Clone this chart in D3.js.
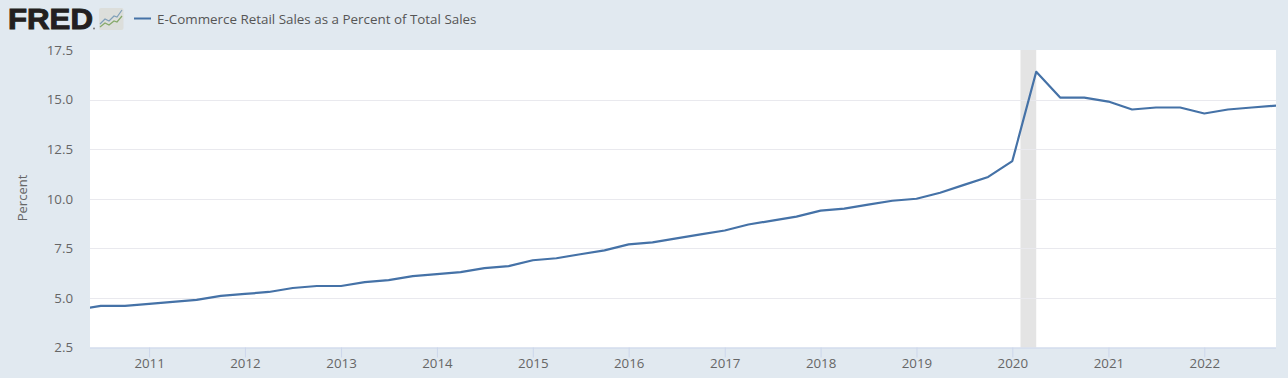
<!DOCTYPE html>
<html>
<head>
<meta charset="utf-8">
<script src="https://cdn.jsdelivr.net/npm/d3@7"></script>
<style>
    html, body { margin: 0; padding: 0; background: #e1e9f0; }
    svg { display: block; font-family: "Open Sans", sans-serif; }
    .axis text { fill: #666666; }
</style>
</head>
<body>
<div id="chart"></div>
<script>
// quarterly values, first one is off the left edge and gets clipped
const quarters = [
    "2010-04-01", "2010-07-01", "2010-10-01",
    "2011-01-01", "2011-04-01", "2011-07-01", "2011-10-01",
    "2012-01-01", "2012-04-01", "2012-07-01", "2012-10-01",
    "2013-01-01", "2013-04-01", "2013-07-01", "2013-10-01",
    "2014-01-01", "2014-04-01", "2014-07-01", "2014-10-01",
    "2015-01-01", "2015-04-01", "2015-07-01", "2015-10-01",
    "2016-01-01", "2016-04-01", "2016-07-01", "2016-10-01",
    "2017-01-01", "2017-04-01", "2017-07-01", "2017-10-01",
    "2018-01-01", "2018-04-01", "2018-07-01", "2018-10-01",
    "2019-01-01", "2019-04-01", "2019-07-01", "2019-10-01",
    "2020-01-01", "2020-04-01", "2020-07-01", "2020-10-01",
    "2021-01-01", "2021-04-01", "2021-07-01", "2021-10-01",
    "2022-01-01", "2022-04-01", "2022-07-01", "2022-10-01"
];
const percent = [
    4.4, 4.6, 4.6,
    4.7, 4.8, 4.9, 5.1,
    5.2, 5.3, 5.5, 5.6,
    5.6, 5.8, 5.9, 6.1,
    6.2, 6.3, 6.5, 6.6,
    6.9, 7.0, 7.2, 7.4,
    7.7, 7.8, 8.0, 8.2,
    8.4, 8.7, 8.9, 9.1,
    9.4, 9.5, 9.7, 9.9,
    10.0, 10.3, 10.7, 11.1,
    11.9, 16.4, 15.1, 15.1,
    14.9, 14.5, 14.6, 14.6,
    14.3, 14.5, 14.6, 14.7
];
const yTicks = [2.5, 5, 7.5, 10, 12.5, 15, 17.5];
const xTickYears = [2011, 2012, 2013, 2014, 2015, 2016, 2017, 2018, 2019, 2020, 2021, 2022];
const recession = ["2020-02-01", "2020-04-01"];
const seriesName = "E-Commerce Retail Sales as a Percent of Total Sales";

const WIDTH = 1288, HEIGHT = 378;
const MARGIN = { LEFT: 90, RIGHT: 12, TOP: 50, BOTTOM: 30.5 };
const innerW = WIDTH - MARGIN.LEFT - MARGIN.RIGHT;
const innerH = HEIGHT - MARGIN.TOP - MARGIN.BOTTOM;

const parseDate = d3.utcParse("%Y-%m-%d");
const data = quarters.map((q, i) => ({ date: parseDate(q), value: percent[i] }));

const svg = d3.select("#chart").append("svg")
    .attr("width", WIDTH)
    .attr("height", HEIGHT);

svg.append("defs").append("clipPath").attr("id", "plot-clip")
    .append("rect").attr("width", innerW).attr("height", innerH);

// x domain is set so 2011 lands at 149 and Oct 2022 at the right edge
const x = d3.scaleUtc()
    .domain([parseDate("2010-05-21"), parseDate("2022-10-01")])
    .range([0, innerW]);
const y = d3.scaleLinear().domain([2.5, 17.5]).range([innerH, 0]);

const g = svg.append("g").attr("transform", `translate(${MARGIN.LEFT}, ${MARGIN.TOP})`);

g.append("rect")
    .attr("width", innerW)
    .attr("height", innerH)
    .attr("fill", "#ffffff");

// Recession band
g.append("rect")
    .attr("x", x(parseDate(recession[0])))
    .attr("width", x(parseDate(recession[1])) - x(parseDate(recession[0])))
    .attr("height", innerH)
    .attr("fill", "#e4e4e4");

// Grid
g.selectAll(".grid")
    .data(yTicks.slice(1, -1))
    .join("line")
    .attr("class", "grid")
    .attr("x1", 0)
    .attr("x2", innerW)
    .attr("y1", d => Math.round(y(d)) + 0.5)
    .attr("y2", d => Math.round(y(d)) + 0.5)
    .attr("stroke", "#e9e9ee");

// Y axis
const yAxis = g.append("g")
    .attr("class", "y axis")
    .call(d3.axisLeft(y).tickValues(yTicks).tickFormat(d3.format(".1f")).tickSize(0).tickPadding(17));
yAxis.select(".domain").remove();
yAxis.selectAll("text")
    .attr("font-size", 13.3)
    .attr("font-family", "Open Sans");

// X axis
const xAxis = g.append("g")
    .attr("class", "x axis")
    .attr("transform", `translate(0, ${innerH})`)
    .call(d3.axisBottom(x)
        .tickValues(xTickYears.map(yr => new Date(Date.UTC(yr, 0, 1))))
        .tickFormat(d3.utcFormat("%Y"))
        .tickSize(10)
        .tickPadding(1));
xAxis.select(".domain").attr("stroke", "#ccd6eb").attr("d", `M0,0.5H${innerW}`);
xAxis.selectAll("line").attr("stroke", "#ccd6eb");
xAxis.selectAll("text")
    .attr("font-size", 13.3)
    .attr("font-family", "Open Sans");

// Series line
const line = d3.line().x(d => x(d.date)).y(d => y(d.value));
g.append("path")
    .datum(data)
    .attr("clip-path", "url(#plot-clip)")
    .attr("fill", "none")
    .attr("stroke", "#4572a7")
    .attr("stroke-width", 2.2)
    .attr("stroke-linejoin", "round")
    .attr("d", line);

// Y axis title
svg.append("text")
    .attr("text-anchor", "middle")
    .attr("transform", "translate(26.5, 198) rotate(-90)")
    .attr("font-size", 13)
    .attr("fill", "#666666")
    .text("Percent");

// FRED logo
svg.append("text")
    .attr("x", 8)
    .attr("y", 29)
    .attr("font-family", "Liberation Sans")
    .attr("font-weight", "bold")
    .attr("font-size", 29)
    .attr("textLength", 85)
    .attr("lengthAdjust", "spacingAndGlyphs")
    .attr("fill", "#231f20")
    .attr("stroke", "#231f20")
    .attr("stroke-width", 1)
    .text("FRED");
svg.append("circle").attr("cx", 94).attr("cy", 28.5).attr("r", 1).attr("fill", "#777777");

const logo = svg.append("g").attr("transform", "translate(99, 8)");
logo.append("rect").attr("width", 24.5).attr("height", 22).attr("rx", 2).attr("fill", "#dcdedb");
logo.append("path")
    .attr("d", "M1,16L6,11L10,13L15,8L18,9L23,2")
    .attr("fill", "none").attr("stroke", "#7f9fb8").attr("stroke-width", 1.2);
logo.append("path")
    .attr("d", "M1,19L6,15L10,17L15,13L18,14L23,8")
    .attr("fill", "none").attr("stroke", "#86a96a").attr("stroke-width", 1.2);

// Legend
svg.append("line")
    .attr("x1", 134).attr("x2", 151)
    .attr("y1", 18.5).attr("y2", 18.5)
    .attr("stroke", "#4572a7")
    .attr("stroke-width", 2);
svg.append("text")
    .attr("x", 157)
    .attr("y", 23.5)
    .attr("font-size", 13.4)
    .attr("fill", "#555555")
    .text(seriesName);
</script>
</body>
</html>
